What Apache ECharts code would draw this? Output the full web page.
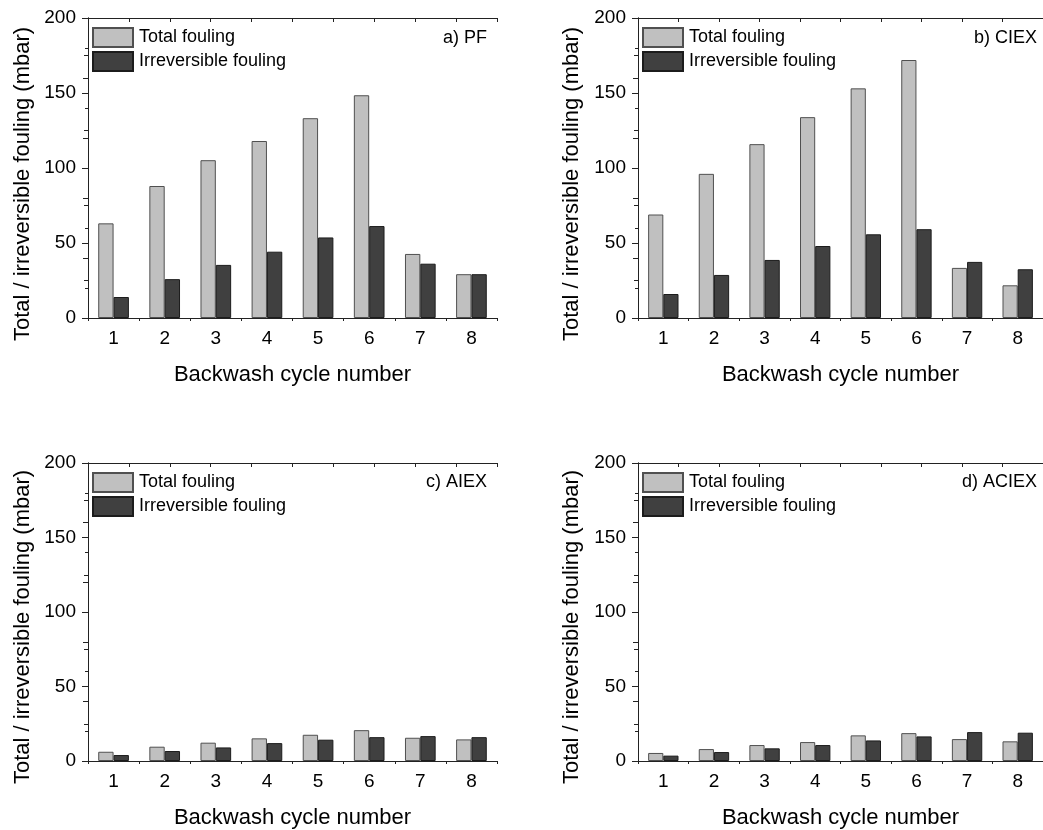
<!DOCTYPE html>
<html>
<head>
<meta charset="utf-8">
<script src="https://cdn.jsdelivr.net/npm/echarts@6/dist/echarts.min.js"></script>
<style>
html,body{margin:0;padding:0;background:#fff;}
#main{width:1043px;height:830px;}
</style>
</head>
<body>
<div id="main"></div>
<script>
// ---- data ----
const categories = ['1','2','3','4','5','6','7','8'];
const seriesNames = ['Total fouling','Irreversible fouling'];
const panelLabels = ['a) PF','b) CIEX','c) AIEX','d) ACIEX'];
const yTicks = [0,50,100,150,200];

const pfTotal   = [63.1, 88.0, 105.2, 118.0, 133.2, 148.5, 42.7, 29.2];
const pfIrrev   = [14.0, 25.9, 35.4, 44.2, 53.7, 61.3, 36.2, 29.2];
const ciexTotal = [69.0, 96.1, 115.9, 133.9, 153.1, 172.0, 33.4, 21.8];
const ciexIrrev = [16.0, 28.7, 38.7, 48.0, 55.8, 59.2, 37.4, 32.5];
const aiexTotal = [6.2, 9.6, 12.3, 15.2, 17.6, 20.7, 15.6, 14.5];
const aiexIrrev = [4.0, 6.7, 9.1, 12.0, 14.3, 16.0, 16.7, 16.0];
const aciexTotal = [5.4, 8.0, 10.7, 12.7, 17.2, 18.7, 14.7, 13.2];
const aciexIrrev = [3.6, 6.0, 8.5, 10.7, 13.8, 16.5, 19.4, 19.0];

const panelData = [[pfTotal,pfIrrev],[ciexTotal,ciexIrrev],[aiexTotal,aiexIrrev],[aciexTotal,aciexIrrev]];

// ---- layout ----
const FONT = "'Liberation Sans', Arial, sans-serif";
const grids = [
  {left:88, top:18, width:409, height:300},
  {left:638, top:18, width:405, height:300},
  {left:88, top:463, width:409, height:299},
  {left:638, top:463, width:405, height:299}
];
const AX = '#222';
const colors = ['#c0c0c0','#404040'];
const borders = ['#505050','#1c1c1c'];

const xAxis = [], yAxis = [], series = [], legend = [], graphic = [];
grids.forEach((g,i)=>{
  const xb = xAxis.length, yb = yAxis.length;
  // main category axis
  xAxis.push({type:'category', gridIndex:i, data:categories, position:'bottom',
    axisLine:{lineStyle:{color:AX,width:1}},
    axisTick:{alignWithLabel:true,length:6,lineStyle:{color:AX}},
    axisLabel:{color:'#000',fontSize:19,fontFamily:FONT,margin:11},
    name:'Backwash cycle number', nameLocation:'middle', nameGap:46,
    nameTextStyle:{color:'#000',fontSize:22,fontFamily:FONT}});
  // boundary minor ticks
  xAxis.push({type:'value', gridIndex:i, min:0, max:8, interval:1, position:'bottom',
    axisLine:{show:false}, axisTick:{show:true,length:3,lineStyle:{color:AX}},
    axisLabel:{show:false}, splitLine:{show:false}});
  // top axis
  xAxis.push({type:'value', gridIndex:i, min:0, max:10, interval:1, position:'top',
    axisLine:{show:true,lineStyle:{color:AX}}, axisTick:{show:true,inside:true,length:4,lineStyle:{color:AX}},
    axisLabel:{show:false}, splitLine:{show:false}});
  // left y axis
  yAxis.push({type:'value', gridIndex:i, min:0, max:200, interval:50, position:'left',
    axisLine:{show:true,lineStyle:{color:AX}},
    axisTick:{show:true,length:6,lineStyle:{color:AX}},
    minorTick:{show:true,splitNumber:2,length:4,lineStyle:{color:AX}},
    axisLabel:{color:'#000',fontSize:19,fontFamily:FONT,margin:12},
    splitLine:{show:false}});
  // right y axis
  yAxis.push({type:'value', gridIndex:i, min:0, max:200, interval:40, position:'right',
    axisLine:{show:true,lineStyle:{color:AX}},
    axisTick:{show:true,inside:true,length:5,lineStyle:{color:AX}},
    minorTick:{show:true,splitNumber:2,length:3,lineStyle:{color:AX}},
    axisLabel:{show:false}, splitLine:{show:false}});

  panelData[i].forEach((vals,s)=>{
    series.push({type:'bar', name:seriesNames[s], xAxisIndex:xb, yAxisIndex:yb,
      data:vals, barWidth:'30%', barGap:'0%',
      itemStyle:{color:colors[s], borderColor:borders[s], borderWidth:1},
      emphasis:{disabled:true}});
  });

  legend.push({orient:'vertical', left:g.left+4, top:g.top+9,
    itemWidth:40, itemHeight:19, itemGap:3, padding:0,
    icon:'rect', selectedMode:false,
    textStyle:{color:'#000',fontSize:18,fontFamily:FONT,lineHeight:19,padding:[0,0,0,1]},
    data:seriesNames.map(n=>({name:n}))});

  // y-axis title
  graphic.push({type:'text', x:(i%2===0?23:572), y:(i<2?184:627), rotation:Math.PI/2,
    style:{text:'Total / irreversible fouling (mbar)', fill:'#000', font:'22px '+FONT,
      textAlign:'center', textVerticalAlign:'middle'}});
  // panel label
  graphic.push({type:'text', x:(i%2===0?487:1037), y:(i<2?38:482),
    style:{text:panelLabels[i], fill:'#000', font:'18px '+FONT,
      textAlign:'right', textVerticalAlign:'middle'}});
});

const chart = echarts.init(document.getElementById('main'), null, {renderer:'canvas'});
chart.setOption({
  animation:false,
  backgroundColor:'#fff',
  grid:grids,
  xAxis, yAxis, series, legend, graphic
});
</script>
</body>
</html>
